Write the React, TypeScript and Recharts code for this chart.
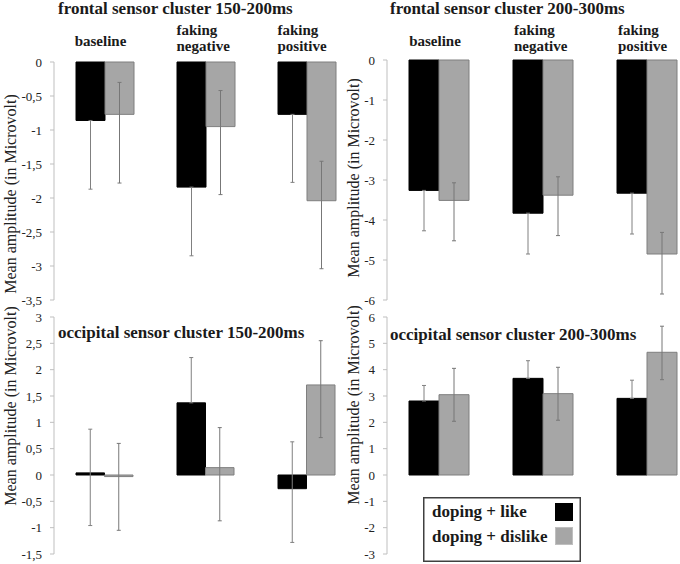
import { BarChart, Bar, XAxis, YAxis, ErrorBar, Legend } from 'recharts';

const FONT = '"Liberation Serif", "Times New Roman", serif';

const categories = ['baseline', 'faking negative', 'faking positive'];
const seriesNames = ['doping + like', 'doping + dislike'];

// frontal sensor cluster 150-200ms (null = error end hidden inside the black bar)
const frontalEarlyLike = [-0.86, -1.84, -0.77];
const frontalEarlyLikeLow = [-1.87, -2.85, -1.77];
const frontalEarlyLikeHigh = [null, null, null];
const frontalEarlyDislike = [-0.77, -0.95, -2.04];
const frontalEarlyDislikeLow = [-1.78, -1.95, -3.04];
const frontalEarlyDislikeHigh = [-0.3, -0.42, -1.46];
const frontalEarlyTicks = [0, -0.5, -1, -1.5, -2, -2.5, -3, -3.5];

// frontal sensor cluster 200-300ms
const frontalLateLike = [-3.26, -3.83, -3.33];
const frontalLateLikeLow = [-4.27, -4.85, -4.35];
const frontalLateLikeHigh = [null, null, null];
const frontalLateDislike = [-3.51, -3.38, -4.85];
const frontalLateDislikeLow = [-4.52, -4.39, -5.85];
const frontalLateDislikeHigh = [-3.07, -2.92, -4.31];
const frontalLateTicks = [0, -1, -2, -3, -4, -5, -6];

// occipital sensor cluster 150-200ms
const occipitalEarlyLike = [0.04, 1.37, -0.26];
const occipitalEarlyLikeLow = [-0.96, null, -1.28];
const occipitalEarlyLikeHigh = [0.87, 2.23, 0.63];
const occipitalEarlyDislike = [-0.03, 0.14, 1.71];
const occipitalEarlyDislikeLow = [-1.05, -0.87, 0.71];
const occipitalEarlyDislikeHigh = [0.6, 0.9, 2.55];
const occipitalEarlyTicks = [3, 2.5, 2, 1.5, 1, 0.5, 0, -0.5, -1, -1.5];

// occipital sensor cluster 200-300ms
const occipitalLateLike = [2.81, 3.67, 2.91];
const occipitalLateLikeLow = [null, null, null];
const occipitalLateLikeHigh = [3.4, 4.34, 3.6];
const occipitalLateDislike = [3.05, 3.09, 4.66];
const occipitalLateDislikeLow = [2.04, 2.08, 3.62];
const occipitalLateDislikeHigh = [4.05, 4.09, 5.65];
const occipitalLateTicks = [6, 5, 4, 3, 2, 1, 0, -1, -2, -3];

type End = number | null;

function buildRows(like: number[], likeLow: End[], likeHigh: End[], dislike: number[], dislikeLow: End[], dislikeHigh: End[]) {
  return categories.map((name, i) => ({
    name,
    like: like[i],
    dislike: dislike[i],
    likeErr: [like[i] - (likeLow[i] ?? like[i]), (likeHigh[i] ?? like[i]) - like[i]],
    dislikeErr: [dislike[i] - (dislikeLow[i] ?? dislike[i]), (dislikeHigh[i] ?? dislike[i]) - dislike[i]],
  }));
}

const fmt = (v: number) => String(v).replace('.', ',');

function CategoryTick(props: any) {
  const { x, payload } = props;
  const words: string[] = payload.value.split(' ');
  const style = { fontFamily: FONT, fontWeight: 'bold' as const, fontSize: 15, fill: '#1a1a1a' };
  if (words.length === 1) {
    return (
      <text x={x - 4} y={46} textAnchor="middle" style={style}>
        {words[0]}
      </text>
    );
  }
  return (
    <text x={x - 29} y={35} textAnchor="start" style={style}>
      <tspan x={x - 29} y={35}>{words[0]}</tspan>
      <tspan x={x - 29} y={51}>{words[1]}</tspan>
    </text>
  );
}

function LegendBox(props: any) {
  const items = [...(props.payload || [])].sort(
    (a: any, b: any) => seriesNames.indexOf(a.value) - seriesNames.indexOf(b.value)
  );
  return (
    <svg width={158} height={65} style={{ display: 'block' }}>
      <rect x={0.75} y={0.75} width={156.5} height={63.5} fill="#fff" stroke="#404040" strokeWidth={1.5} />
      {items.map((item: any, i: number) => (
        <g key={item.value}>
          <text x={9} y={20 + i * 25} style={{ fontFamily: FONT, fontWeight: 'bold', fontSize: 17, fill: '#1a1a1a' }}>
            {item.value}
          </text>
          <rect x={132.5} y={6.5 + i * 24} width={17} height={17} fill={item.color} stroke={i === 0 ? '#000' : '#bfbfbf'} />
        </g>
      ))}
    </svg>
  );
}

interface PanelProps {
  left: number;
  top: number;
  width: number;
  height: number;
  plotTop: number;
  plotBottom: number;
  rows: ReturnType<typeof buildRows>;
  ticks: number[];
  barSize: number;
  showCategories?: boolean;
  showLegend?: boolean;
}

function Panel({ left, top, width, height, plotTop, plotBottom, rows, ticks, barSize, showCategories, showLegend }: PanelProps) {
  const domain = [Math.min(...ticks), Math.max(...ticks)];
  return (
    <div style={{ position: 'absolute', left, top, width, height }}>
      <BarChart
        width={width}
        height={height}
        data={rows}
        barSize={barSize}
        barGap={0}
        margin={{ top: showCategories ? 0 : plotTop, right: 0, bottom: height - plotBottom, left: 0 }}
      >
        {showCategories ? (
          <XAxis
            dataKey="name"
            orientation="top"
            height={plotTop}
            axisLine={false}
            tickLine={false}
            interval={0}
            tick={<CategoryTick />}
          />
        ) : (
          <XAxis dataKey="name" hide />
        )}
        <YAxis
          type="number"
          domain={domain}
          ticks={ticks}
          interval={0}
          width={54}
          tickSize={4}
          tickMargin={8}
          tickFormatter={fmt}
          axisLine={{ stroke: '#bfbfbf' }}
          tickLine={{ stroke: '#bfbfbf' }}
          tick={{ fontSize: 13, fill: '#222', fontFamily: FONT }}
        />
        <Bar dataKey="like" name={seriesNames[0]} fill="#000000" stroke="#000000" isAnimationActive={false}>
          <ErrorBar dataKey="likeErr" direction="y" width={2} stroke="#808080" strokeWidth={1} />
        </Bar>
        <Bar dataKey="dislike" name={seriesNames[1]} fill="#a6a6a6" stroke="#7f7f7f" isAnimationActive={false}>
          <ErrorBar dataKey="dislikeErr" direction="y" width={2} stroke="#777777" strokeWidth={1} />
        </Bar>
        {showLegend && (
          <Legend
            layout="vertical"
            align="center"
            verticalAlign="middle"
            content={<LegendBox />}
            wrapperStyle={{ left: 90, top: 193, width: 158, height: 65 }}
          />
        )}
      </BarChart>
    </div>
  );
}

const titleStyle = { fontFamily: FONT, fontWeight: 'bold' as const, fontSize: 17, fill: '#1a1a1a' };
const axisLabelStyle = { fontFamily: FONT, fontSize: 16, fill: '#222' };

export default function App() {
  return (
    <div style={{ position: 'absolute', left: 0, top: 0, width: 680, height: 564, overflow: 'hidden', background: '#fff' }}>
      <Panel
        left={0} top={0} width={357} height={312} plotTop={62} plotBottom={300}
        rows={buildRows(frontalEarlyLike, frontalEarlyLikeLow, frontalEarlyLikeHigh, frontalEarlyDislike, frontalEarlyDislikeLow, frontalEarlyDislikeHigh)}
        ticks={frontalEarlyTicks} barSize={29} showCategories
      />
      <Panel
        left={333} top={0} width={366} height={312} plotTop={60} plotBottom={300}
        rows={buildRows(frontalLateLike, frontalLateLikeLow, frontalLateLikeHigh, frontalLateDislike, frontalLateDislikeLow, frontalLateDislikeHigh)}
        ticks={frontalLateTicks} barSize={30} showCategories
      />
      <Panel
        left={0} top={304} width={357} height={260} plotTop={13} plotBottom={250}
        rows={buildRows(occipitalEarlyLike, occipitalEarlyLikeLow, occipitalEarlyLikeHigh, occipitalEarlyDislike, occipitalEarlyDislikeLow, occipitalEarlyDislikeHigh)}
        ticks={occipitalEarlyTicks} barSize={28.5}
      />
      <Panel
        left={333} top={304} width={366} height={260} plotTop={13} plotBottom={250}
        rows={buildRows(occipitalLateLike, occipitalLateLikeLow, occipitalLateLikeHigh, occipitalLateDislike, occipitalLateDislikeLow, occipitalLateDislikeHigh)}
        ticks={occipitalLateTicks} barSize={30} showLegend
      />
      <svg width={680} height={564} style={{ position: 'absolute', left: 0, top: 0, pointerEvents: 'none' }}>
        <text x={58} y={14} style={titleStyle}>frontal sensor cluster 150-200ms</text>
        <text x={390} y={14} style={titleStyle}>frontal sensor cluster 200-300ms</text>
        <text x={58} y={338} style={titleStyle}>occipital sensor cluster 150-200ms</text>
        <text x={390} y={340} style={titleStyle}>occipital sensor cluster 200-300ms</text>
        <text x={0} y={0} textAnchor="middle" transform="translate(16,194) rotate(-90)" style={axisLabelStyle}>Mean amplitude (in Microvolt)</text>
        <text x={0} y={0} textAnchor="middle" transform="translate(359,178) rotate(-90)" style={axisLabelStyle}>Mean amplitude (in Microvolt)</text>
        <text x={0} y={0} textAnchor="middle" transform="translate(16,406) rotate(-90)" style={axisLabelStyle}>Mean amplitude (in Microvolt)</text>
        <text x={0} y={0} textAnchor="middle" transform="translate(359,405) rotate(-90)" style={axisLabelStyle}>Mean amplitude (in Microvolt)</text>
      </svg>
    </div>
  );
}
